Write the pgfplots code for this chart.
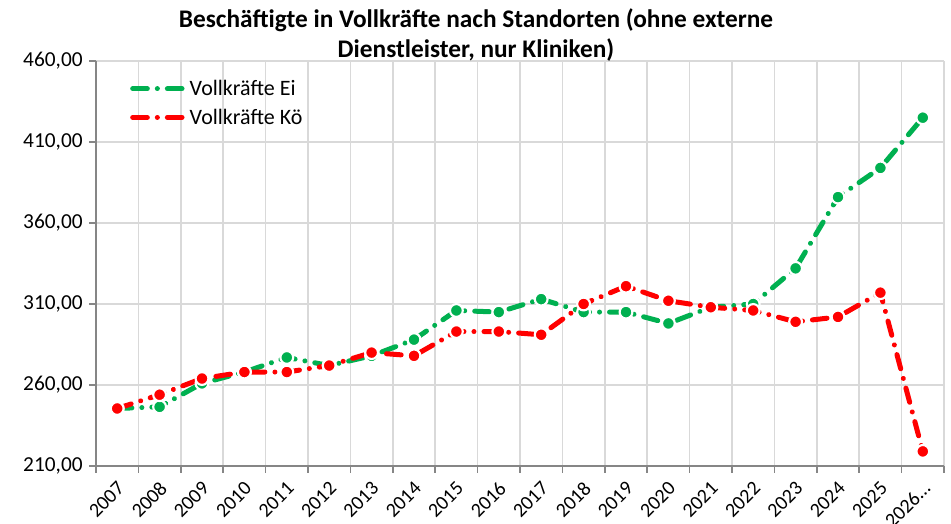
\documentclass[border=0pt]{standalone}
\usepackage{fontspec}
\setmainfont{Carlito}
\usepackage{pgfplots}
\pgfplotsset{compat=1.18}
\definecolor{ei}{RGB}{0,176,80}
\definecolor{koe}{RGB}{255,0,0}
\definecolor{gridc}{RGB}{217,217,217}
\definecolor{axc}{RGB}{134,134,134}

% Vollkraefte je Standort, Kategorie i liegt bei i+0.5
\pgfplotstableread{
x    ei     koe
0.5  245.5  245.5
1.5  246.5  254
2.5  261    264
3.5  268    268
4.5  277    268
5.5  272    272
6.5  278    280
7.5  288    278
8.5  306    293
9.5  305    293
10.5 313    291
11.5 305    310
12.5 305    321
13.5 298    312
14.5 308    308
15.5 310    306
16.5 332    299
17.5 376    302
18.5 394    317
19.5 425    219
}\vkdata

\tikzset{
  vk/.style={line width=3.75pt, line cap=round,
    dash pattern=on 11pt off 7.5pt on 0.01pt off 7.5pt,
    mark=*, mark size=4.8pt,
    mark options={solid, draw=white, line width=1.6pt}},
}

\begin{document}
\begin{tikzpicture}
\path[use as bounding box] (-72pt,-43.5pt) rectangle (641.25pt,349.5pt);
\begin{axis}[
  scale only axis, width=636pt, height=303.75pt,
  xmin=0, xmax=20, ymin=210, ymax=460,
  axis x line*=bottom, axis y line*=left,
  axis line style={axc, line width=1.1pt},
  xtick={0.5,1.5,...,19.5},
  xticklabels={2007,2008,2009,2010,2011,2012,2013,2014,2015,2016,2017,2018,2019,2020,2021,2022,2023,2024,2025,{2026…}},
  minor xtick={0,1,...,20},
  major x tick style={draw=none},
  minor tick length=5pt,
  major tick length=5pt,
  tick align=outside,
  tick style={axc, line width=1.1pt},
  xminorgrids=true, ymajorgrids=true, xmajorgrids=false,
  grid style={gridc, line width=1.2pt},
  minor grid style={gridc, line width=1.2pt},
  ytick={210,260,...,460},
  yticklabel={\pgfmathprintnumber{\tick}},
  /pgf/number format/.cd, fixed, fixed zerofill, precision=2, use comma, assume math mode=true,
  /pgfplots/.cd,
  tick label style={font=\fontsize{16}{18}\selectfont, text=black},
  yticklabel style={xshift=-1.5pt},
  xticklabel style={rotate=45, anchor=north east, xshift=-3pt, yshift=-2pt, inner sep=1.5pt,
    font=\fontsize{15}{17}\selectfont},
  legend style={at={(0.04,0.96)}, anchor=north west, draw=none, fill=none,
    font=\fontsize{16.5}{18}\selectfont, row sep=4.5pt, inner sep=0pt},
  legend cell align=left,
  legend image code/.code={\draw[#1, mark=none] (1.9pt,0pt) -- (40.8pt,0pt);},
  clip=false,
]
\addplot[vk, color=ei] table[x=x, y=ei] {\vkdata};
\addlegendentry{Vollkräfte Ei}
\addplot[vk, color=koe] table[x=x, y=koe] {\vkdata};
\addlegendentry{Vollkräfte Kö}
\end{axis}
\node[align=center, font=\bfseries\fontsize{19}{22.5}\selectfont] at (285pt,323.25pt)
  {Beschäftigte in Vollkräfte nach Standorten (ohne externe\\Dienstleister, nur Kliniken)};
\end{tikzpicture}
\end{document}
